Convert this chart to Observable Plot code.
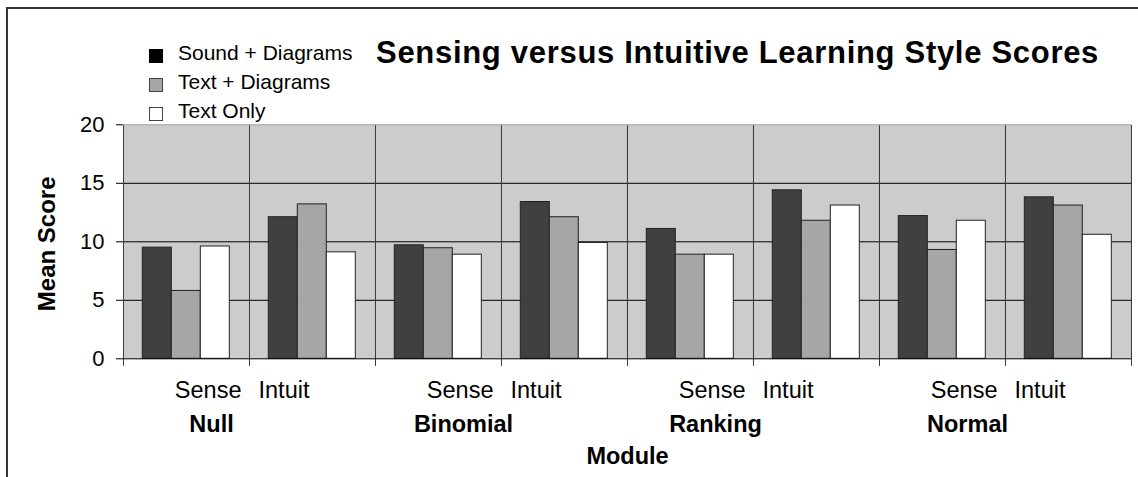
<!DOCTYPE html>
<html>
<head>
<meta charset="utf-8">
<script src="https://cdn.jsdelivr.net/npm/d3@7"></script>
<script src="https://cdn.jsdelivr.net/npm/@observablehq/plot@0.6"></script>
<style>
  body { margin: 0; background: #fff; font-family: "Liberation Sans", Arial, sans-serif; }
  #wrap { position: relative; width: 1138px; height: 477px; overflow: hidden; background: #fff; }
  #head { position: absolute; left: 0; top: 0; width: 1138px; height: 112px; }
  #chart { position: absolute; left: 0; top: 112px; }
  #border { position: absolute; left: 6px; top: 7px; width: 1300px; height: 700px;
            border-left: 2px solid #333; border-top: 2px solid #333; pointer-events: none; }
  .title { position: absolute; left: 376px; top: 37px; font-size: 31px; font-weight: bold; letter-spacing: 0.7px;
           line-height: 1; white-space: nowrap; color: #000; }
  .lg { position: absolute; left: 178px; font-size: 21px; line-height: 1; white-space: nowrap; color: #000; }
  .sw { position: absolute; left: 149px; width: 14px; height: 14px; box-sizing: border-box; border: 1px solid #000; }
</style>
</head>
<body>
<div id="wrap">
  <div id="head"></div>
  <div id="chart"></div>
  <div id="border"></div>
</div>
<script>
// ---- data ----
const modules = ["Null", "Binomial", "Ranking", "Normal"];
const styles = ["Sense", "Intuit"];
const series = ["Sound + Diagrams", "Text + Diagrams", "Text Only"];
const soundDiagrams = [9.5, 12.1, 9.7, 13.4, 11.1, 14.4, 12.2, 13.8];
const textDiagrams  = [5.8, 13.2, 9.45, 12.1, 8.9, 11.8, 9.3, 13.1];
const textOnly      = [9.6, 9.1, 8.9, 9.9, 8.9, 13.1, 11.8, 10.6];
const yTicks = [0, 5, 10, 15, 20];
const gridValues = [5, 10, 15];
const fills = ["#404040", "#a6a6a6", "#ffffff"];
const titleText = "Sensing versus Intuitive Learning Style Scores";
const yLabel = "Mean Score";
const xLabel = "Module";

// ---- derived tables ----
const catRows = modules.flatMap(m => styles.map(s => ({cat: m + " " + s, module: m, style: s})));
const cats = catRows.map(d => d.cat);
const seriesValues = [soundDiagrams, textDiagrams, textOnly];
const rows = catRows.flatMap((c, i) => series.map((s, j) => ({...c, series: s, value: seriesValues[j][i]})));

// ---- header: title + legend ----
const head = document.getElementById("head");
const t = document.createElement("div");
t.className = "title"; t.textContent = titleText; head.appendChild(t);
const baselines = [60, 89, 118];
series.forEach((s, j) => {
  const sw = document.createElement("div");
  sw.className = "sw";
  sw.style.top = (baselines[j] - 11) + "px";
  sw.style.background = j === 0 ? "#000" : fills[j];
  sw.style.borderColor = j === 0 ? "#000" : "#444";
  head.appendChild(sw);
  const lg = document.createElement("div");
  lg.className = "lg";
  lg.style.top = (baselines[j] - 17.8) + "px";
  lg.textContent = s;
  head.appendChild(lg);
});

// ---- chart ----
const W = 1138, H = 365;
const mT = 12.3, mR = 7, mB = 118.7, mL = 122.7;
const fw = (W - mL - mR) / cats.length;
const vh = (H - mT - mB) + 7;

const chart = Plot.plot({
  width: W, height: H,
  marginTop: mT, marginRight: mR, marginBottom: mB, marginLeft: mL,
  style: {fontFamily: "Liberation Sans, Arial, sans-serif", fontSize: "22px", color: "#000", background: "transparent", overflow: "visible"},
  fx: {domain: cats, padding: 0, axis: null, label: null},
  x: {domain: series, paddingInner: 0, paddingOuter: 0.64, axis: null},
  y: {domain: [0, 20], ticks: yTicks, tickSize: 7, tickPadding: 12, label: null},
  color: {domain: series, range: fills},
  marks: [
    Plot.frame({fill: "#cccccc", stroke: "none"}),
    Plot.ruleY(gridValues, {stroke: "#000", strokeWidth: 1}),
    Plot.frame({fill: "none", stroke: "#3a3a3a", insetBottom: -7,
                strokeDasharray: `0 ${fw} ${vh} ${fw} ${vh}`}),
    Plot.barY(rows, {fx: "cat", x: "series", y: "value", fill: "series", stroke: "#222", strokeWidth: 1}),
    Plot.ruleY([0], {stroke: "#000"}),
    Plot.ruleY([20], {stroke: "#a0a0a0"}),
    Plot.text(catRows.filter(d => d.style === "Sense"), {fx: "cat", text: "style", frameAnchor: "bottom-right",
      textAnchor: "end", dx: -8, dy: 39, fontSize: 23.5, fill: "#000"}),
    Plot.text(catRows.filter(d => d.style === "Intuit"), {fx: "cat", text: "style", frameAnchor: "bottom-left",
      textAnchor: "start", dx: 9, dy: 39, fontSize: 23.5, fill: "#000"}),
    Plot.text(modules, {fx: d => d + " Sense", text: d => d, frameAnchor: "bottom-right",
      textAnchor: "middle", dx: -38, dy: 73, fontSize: 23.5, fontWeight: "bold", fill: "#000"}),
    Plot.text([xLabel], {fx: () => cats[cats.length / 2 - 1], text: d => d, frameAnchor: "bottom-right",
      textAnchor: "middle", dy: 105, fontSize: 23.5, fontWeight: "bold", fill: "#000"}),
    Plot.text([yLabel], {fx: () => cats[0], text: d => d, frameAnchor: "left", rotate: -90,
      textAnchor: "middle", dx: -76, dy: 2, fontSize: 24, fontWeight: "bold", fill: "#000"})
  ]
});
document.getElementById("chart").appendChild(chart);
</script>
</body>
</html>
